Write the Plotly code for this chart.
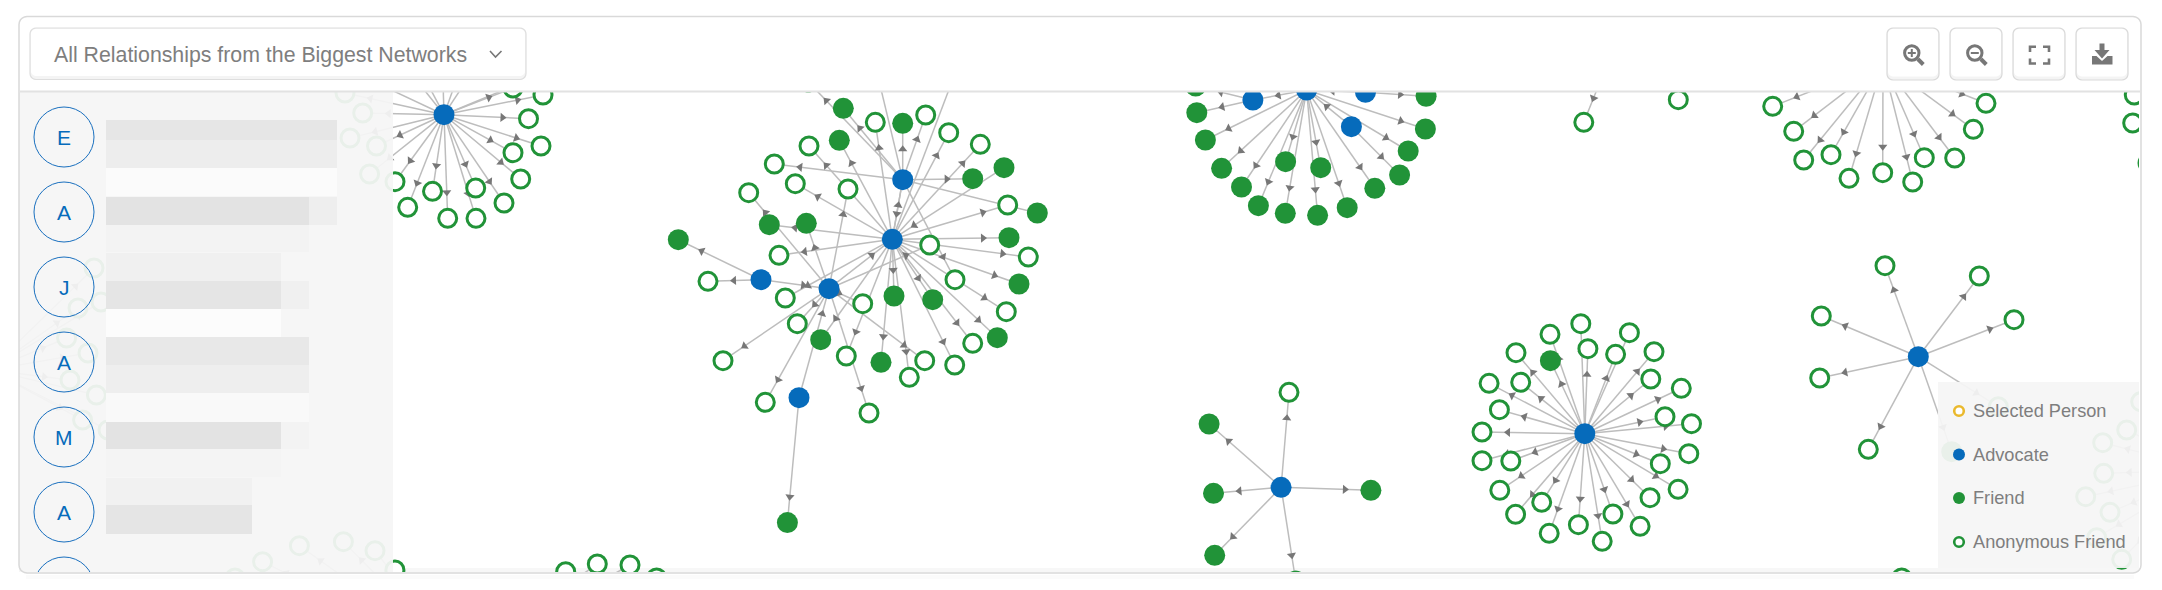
import numpy as np
import plotly.graph_objects as go

W, H = 2162, 590
BLUE = "#066bbb"
GREEN = "#219338"
GOLD = "#eab92d"
GREY = "#777777"
TEXT_GREY = "#7e7e7e"

# hubs (advocates), some of them sit outside the visible canvas
hub_names = ["tl", "main", "top", "left", "ll", "bot", "c3", "c3l", "c3r", "c3d", "tr", "s1", "s2", "s3",
             "off_iso", "off_iso2", "off_right", "off_side", "off_legend", "off_bottom", "off_bottom2"]
hub_x = [444, 892.3, 902.7, 829, 761, 799, 1306.6, 1252.9, 1365.5, 1351.4, 1883, 1281.1, 1584.8, 1918.3,
         1610, 1700, 2175, -10, 2210, 460, 1900]
hub_y = [114.7, 239.3, 179.7, 288.7, 279.7, 397.7, 90, 100, 92.3, 126.7, 63, 487.3, 433.7, 356.7,
         57, 40, 70, 370, 470, 660, 680]
hub_hidden = ["tr", "off_iso", "off_iso2", "off_right", "off_side", "off_legend", "off_bottom", "off_bottom2"]

# advocate to advocate links
link_from = ["main", "top", "left", "ll", "bot", "c3", "c3r", "c3d"]
link_to = ["top", "main", "main", "left", "left", "c3l", "c3", "c3"]

# filled friends
friend_x = [843.3, 902.7, 839.3, 972.7, 1037.3, 769.3, 806.3, 678.3, 1009, 1019, 894, 932.7, 997.3, 820.7, 881, 787.4,
            1196.8, 1205.4, 1221.6, 1241.5, 1258.4, 1285.3, 1317.6, 1347.2, 1374.8, 1399.6, 1408.2, 1425.4, 1426.1, 1285.6, 1320.7, 1195.7,
            1209.1, 1213.5, 1370.9, 1214.7, 1550.4, 1951.7]
friend_y = [108.3, 123.3, 140.3, 178.7, 213, 224.7, 223.3, 239.7, 237.7, 284, 296, 299.7, 337.7, 339.7, 362.3, 522.6,
            112.7, 140, 168.3, 187, 205.7, 213.3, 215.3, 207.7, 188.3, 175, 151, 129, 96.3, 161.7, 167.7, 86,
            424, 493.3, 490.3, 555.3, 360.7, 451.7]
friend_hub = ["top", "top", "main", "top", "top", "main", "left", "ll", "main", "main", "main", "main", "main", "main", "main", "bot",
              "c3l", "c3", "c3", "c3", "c3", "c3", "c3", "c3", "c3", "c3d", "c3", "c3", "c3r", "c3", "c3", "c3l",
              "s1", "s1", "s1", "s1", "s2", "s3"]

# friend whose arrow points back at the hub
inbound_x = [1004]
inbound_y = [167.7]
inbound_hub = ["main"]

# hollow anonymous friends
anon_x = [543, 513, 528.5, 541, 513, 520.7, 504, 475.7, 476, 447.7, 432.5, 407.7, 395, 376.5, 350, 362.7, 345, 369.6,
          353, 382, 397, 441, 478, 499, 540,
          808.3, 875.3, 925.7, 948.7, 980.3, 809, 774.3, 795.3, 848, 748.7, 1007.7, 929.7, 779, 1028.3, 708, 955, 785.3, 862.7,
          1006.3, 797.3, 972.7, 846.3, 723, 924.7, 954.7, 909.3, 765.3, 869, 970, 874,
          1583.8, 1678.3, 1772.7, 1793.7, 1803.7, 1831, 1849, 1882.7, 1912.7, 1924.3, 1954.7, 1973.3, 1986,
          2134.3, 2132.7, 2148, 1289, 1295.7,
          1580.8, 1550, 1629.4, 1516, 1587.9, 1615.6, 1654, 1489.1, 1520.7, 1650.8, 1681.3, 1499.4, 1665, 1691.5, 1482,
          1482, 1510.8, 1688.8, 1660.3, 1499.8, 1678.1, 1650, 1541.7, 1515.6, 1612.9, 1640.1, 1578.4, 1549.2, 1602.2,
          1821.3, 2014, 1819.7, 1868.3, 1885, 1979.3, 1998.3, 1901.7,
          394.9, 565.7, 597.3, 630, 656.6, 299.4, 343.4, 375, 262.6, 235,
          94, 78, 101, 66.6, 88, 70, 96.4, 82.6, 108,
          2102.7, 2126.7, 2103.7, 2085.7, 2110, 2096.7, 2121.7, 2140.7]
anon_y = [95, 88, 118.7, 146, 152.7, 179, 203, 188, 218.3, 218.3, 191.3, 207.3, 181.7, 146, 138, 113, 93, 174,
          72, 37, 26, 15, 20, 31, 75,
          82, 122.3, 115, 132.7, 144.3, 146, 164, 183.7, 189, 192.7, 205, 245, 255.3, 257, 281.3, 279.7, 298, 303.7,
          311.7, 323.7, 343.3, 356, 360.7, 360.7, 365, 377.3, 402.3, 413, 34, 60,
          122.3, 99.7, 106.3, 131.3, 160, 154.7, 178.3, 172.7, 182, 157.7, 158, 129.3, 103.3,
          95, 123, 163, 392.3, 581,
          323.7, 334.3, 332.7, 352.7, 348.7, 354.3, 351.7, 383.3, 382.3, 379, 388.3, 409.7, 416.7, 423.7, 432,
          460.7, 461, 453.7, 463.7, 490.3, 489.3, 497.7, 502.3, 514.3, 514, 526.3, 524.7, 533.3, 541.3,
          316, 319.7, 378, 449.3, 265.7, 276, 406.7, 578,
          570, 571.7, 564, 565, 578, 545.7, 541.7, 550.7, 561.7, 578,
          268, 308, 302, 338, 353, 380, 395, 420, 430,
          442.7, 430, 473.3, 496.7, 512.3, 537.7, 559.3, 401.7]
anon_hub = ["tl"] * 25 + \
           ["top", "main", "top", "main", "main", "main", "top", "main", "left", "left", "main", "left", "main", "main", "ll", "top", "main", "left",
            "main", "left", "main", "main", "left", "left", "main", "main", "left", "left", "main", "top"] + \
           ["off_iso", "off_iso2"] + ["tr"] * 11 + ["off_right"] * 3 + ["s1", "s1"] + ["s2"] * 29 + ["s3"] * 7 + ["off_bottom2"] + \
           ["off_bottom"] * 10 + ["off_side"] * 9 + ["off_legend"] * 8

# sidebar rows, names are pixelated out so only the grey blocks are left
side_letters = ["E", "A", "J", "A", "M", "A", ""]
side_y = [137, 212, 287, 362, 437, 512, 587]
block_top = [120, 140, 168, 197, 197, 225, 253, 281, 281, 309, 337, 365, 393, 422, 422, 449, 478, 505]
block_bottom = [140, 168, 196, 225, 225, 252, 281, 309, 309, 337, 365, 393, 422, 449, 449, 477, 505, 534]
block_left = [106, 106, 106, 106, 309, 106, 106, 106, 281, 106, 106, 106, 106, 106, 281, 106, 106, 106]
block_right = [337, 337, 337, 309, 337, 309, 281, 281, 309, 281, 309, 309, 309, 281, 309, 281, 252, 252]
block_grey = ["#e6e6e6", "#ededed", "#fbfbfb", "#e3e3e3", "#eeeeee", "#f3f3f3", "#f0f0f0", "#e5e5e5", "#f0f0f0",
              "#fcfcfc", "#e8e8e8", "#eeeeee", "#f9f9f9", "#e3e3e3", "#f3f3f3", "#f4f4f4", "#f1f1f1", "#e5e5e5"]

legend_labels = ["Selected Person", "Advocate", "Friend", "Anonymous Friend"]
legend_y = [411, 454.5, 498, 542]
title_text = "All Relationships from the Biggest Networks"


def px(x):
    return x / W


def py(y):
    return 1 - y / H


def hub_pos(name):
    i = hub_names.index(name)
    return hub_x[i], hub_y[i]


# all edges as (source x, source y, target x, target y)
edges = []
for name_a, name_b in zip(link_from, link_to):
    edges.append(hub_pos(name_a) + hub_pos(name_b))
for x, y, h in zip(friend_x, friend_y, friend_hub):
    edges.append(hub_pos(h) + (x, y))
for x, y, h in zip(anon_x, anon_y, anon_hub):
    edges.append(hub_pos(h) + (x, y))
for x, y, h in zip(inbound_x, inbound_y, inbound_hub):
    edges.append((x, y) + hub_pos(h))

line_x, line_y, arrow_x, arrow_y, arrow_angle = [], [], [], [], []
for x0, y0, x1, y1 in edges:
    line_x += [x0, x1, None]
    line_y += [y0, y1, None]
    dist = np.hypot(x1 - x0, y1 - y0)
    ux, uy = (x1 - x0) / dist, (y1 - y0) / dist
    # arrowheads sit a fixed distance before the target
    arrow_x.append(x1 - 26 * ux)
    arrow_y.append(y1 - 26 * uy)
    arrow_angle.append(float(np.degrees(np.arctan2(ux, -uy))))

shown_hubs = [n for n in hub_names if n not in hub_hidden]

fig = go.Figure()
fig.add_trace(go.Scatter(x=line_x, y=line_y, mode="lines", line=dict(color="#bdbdbd", width=1.5), hoverinfo="skip"))
fig.add_trace(go.Scatter(x=arrow_x, y=arrow_y, mode="markers", hoverinfo="skip",
                         marker=dict(symbol="triangle-up", size=8, color=GREY, angle=arrow_angle)))
fig.add_trace(go.Scatter(x=anon_x, y=anon_y, mode="markers", name="Anonymous Friend",
                         marker=dict(size=18, color="white", line=dict(color=GREEN, width=3))))
fig.add_trace(go.Scatter(x=friend_x + inbound_x, y=friend_y + inbound_y, mode="markers", name="Friend",
                         marker=dict(size=21, color=GREEN)))
fig.add_trace(go.Scatter(x=[hub_pos(n)[0] for n in shown_hubs], y=[hub_pos(n)[1] for n in shown_hubs],
                         mode="markers", name="Advocate", marker=dict(size=21, color=BLUE)))

shapes = []


def rect(x0, y0, x1, y1, fill, line=None, width=1, opacity=1):
    shapes.append(dict(type="rect", xref="paper", yref="paper", layer="above", x0=px(x0), x1=px(x1), y0=py(y0), y1=py(y1),
                       fillcolor=fill, opacity=opacity, line=dict(color=line or fill, width=width if line else 0)))


def poly(points, fill=None, line=None, width=0, closed=True):
    d = "M" + " L".join(f"{px(a):.5f},{py(b):.5f}" for a, b in points)
    if closed:
        d += " Z"
    shapes.append(dict(type="path", xref="paper", yref="paper", layer="above", path=d,
                       fillcolor=fill or "rgba(0,0,0,0)", line=dict(color=line or "rgba(0,0,0,0)", width=width)))


def rounded(x0, y0, x1, y1, r, fill=None, line=None, width=1):
    pts = []
    corners = [(x1 - r, y0 + r, -90), (x1 - r, y1 - r, 0), (x0 + r, y1 - r, 90), (x0 + r, y0 + r, 180)]
    for cx, cy, a0 in corners:
        for a in np.radians(np.linspace(a0, a0 + 90, 6)):
            pts.append((cx + r * np.cos(a), cy + r * np.sin(a)))
    poly(pts, fill, line, width)


def circle(cx, cy, r, fill=None, line=None, width=0):
    shapes.append(dict(type="circle", xref="paper", yref="paper", layer="above", x0=px(cx - r), x1=px(cx + r),
                       y0=py(cy - r), y1=py(cy + r), fillcolor=fill or "rgba(0,0,0,0)",
                       line=dict(color=line or "rgba(0,0,0,0)", width=width)))


# bottom fade goes under the nodes
shapes.append(dict(type="rect", xref="x", yref="y", layer="below", x0=393, x1=2139, y0=568, y1=572,
                   fillcolor="#f7f7f7", line=dict(width=0)))

# sidebar over the canvas, the graph shows through very faintly
shapes.append(dict(type="rect", xref="x", yref="y", layer="above", x0=19, x1=393, y0=92, y1=572,
                   fillcolor="#f5f5f5", opacity=0.94, line=dict(width=0)))
for t, b, l, r, g in zip(block_top, block_bottom, block_left, block_right, block_grey):
    rect(l, t, r, b, g)
for yc in side_y:
    shapes.append(dict(type="circle", xref="x", yref="y", layer="above", x0=34, x1=94, y0=yc - 30, y1=yc + 30,
                       line=dict(color="#1a70bf", width=1), fillcolor="rgba(0,0,0,0)"))

# legend panel
shapes.append(dict(type="rect", xref="x", yref="y", layer="above", x0=1938, x1=2139, y0=382, y1=568,
                   fillcolor="#f5f5f5", opacity=0.94, line=dict(width=0)))
rect(26, 575, 2134, 579, "#fbfbfb")
circle(1959, legend_y[0], 4.8, "white", GOLD, 2.6)
circle(1959, legend_y[1], 6, BLUE)
circle(1959, legend_y[2], 6, GREEN)
circle(1959, legend_y[3], 4.8, "white", GREEN, 2.6)

# card outline and header
rounded(19, 16.5, 2141, 573, 8, None, "#d9d9d9", 1.5)
poly([(19, 91.5), (2141, 91.5)], None, "#e2e2e2", 1.8, closed=False)

# dropdown
rounded(30, 28, 526, 79.5, 6, "#f4f4f4", "#dedede", 1.2)
rounded(31, 29, 525, 76, 5, "white")
poly([(490, 51), (495.5, 57), (501.5, 51)], None, GREY, 1.6, closed=False)

# toolbar buttons
for bx in [1887, 1950, 2013, 2076]:
    rounded(bx, 28, bx + 52, 80, 6, "#f4f4f4", "#d9d9d9", 1.2)
    rounded(bx + 1, 29, bx + 51, 76.5, 5, "white")

for cx in [1912.3, 1975.3]:
    circle(cx - 0.5, 53, 7.2, None, GREY, 3)
    poly([(cx + 5.5, 59), (cx + 11, 64.5)], None, GREY, 4, closed=False)
    poly([(cx - 4.5, 53), (cx + 3.5, 53)], None, GREY, 2, closed=False)
poly([(1911.8, 49), (1911.8, 57)], None, GREY, 2, closed=False)

for (xa, xb, ya, yb) in [(2030, 2036, 46.8, 52), (2049, 2043, 46.8, 52), (2030, 2036, 63.5, 58.5), (2049, 2043, 63.5, 58.5)]:
    poly([(xa, yb), (xa, ya), (xb, ya)], None, GREY, 2.6, closed=False)

poly([(2099.5, 43.5), (2104.5, 43.5), (2104.5, 50), (2109.5, 50), (2102, 58.5), (2094.5, 50), (2099.5, 50)], GREY)
poly([(2092, 56), (2096.5, 56), (2102, 61), (2107.5, 56), (2112.5, 56), (2112.5, 64.5), (2092, 64.5)], GREY)

annotations = [dict(text=title_text, x=px(52), y=py(55), xref="paper", yref="paper", xanchor="left", yanchor="middle",
                    showarrow=False, font=dict(family="Liberation Sans", size=21.3, color=TEXT_GREY))]
for letter, yc in zip(side_letters, side_y):
    if letter:
        annotations.append(dict(text=letter, x=px(64), y=py(yc), xref="paper", yref="paper", xanchor="center",
                                yanchor="middle", showarrow=False,
                                font=dict(family="Liberation Sans", size=21, color=BLUE)))
for label, yc in zip(legend_labels, legend_y):
    annotations.append(dict(text=label, x=px(1971), y=py(yc), xref="paper", yref="paper", xanchor="left", yanchor="middle",
                            showarrow=False, font=dict(family="Liberation Sans", size=18.2, color=TEXT_GREY)))

fig.update_layout(
    width=W, height=H, margin=dict(l=0, r=0, t=0, b=0), showlegend=False,
    paper_bgcolor="white", plot_bgcolor="rgba(0,0,0,0)", shapes=shapes, annotations=annotations,
    xaxis=dict(domain=[px(19), px(2139)], range=[19, 2139], visible=False),
    yaxis=dict(domain=[py(572), py(92)], range=[572, 92], visible=False),
)
# the page has a default body margin that would push the card off by 8px
fig.write_html("out.html", config=dict(displayModeBar=False), post_script="document.body.style.margin='0';")
